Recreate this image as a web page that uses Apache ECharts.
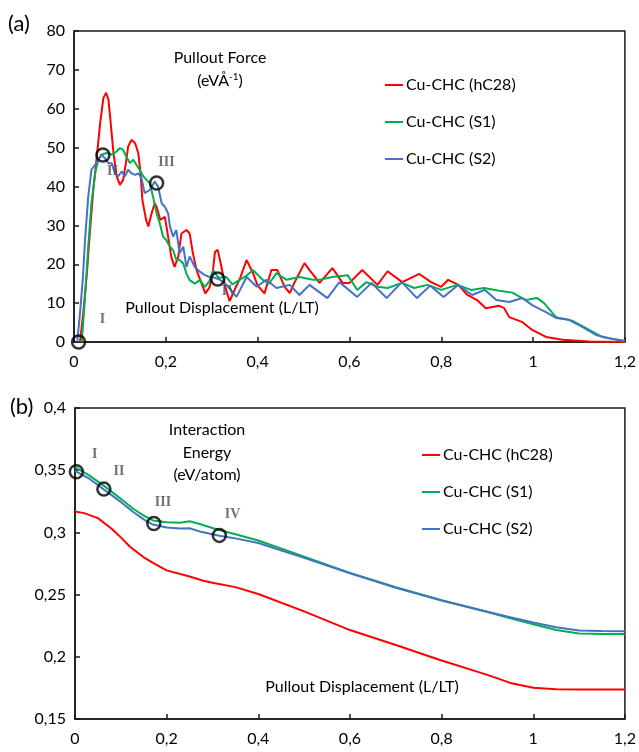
<!DOCTYPE html>
<html>
<head>
<meta charset="utf-8">
<script src="https://cdn.jsdelivr.net/npm/echarts@6/dist/echarts.min.js"></script>
<style>
  html, body { margin: 0; padding: 0; background: #fff; }
  #chart { width: 639px; height: 752px; }
</style>
</head>
<body>
<div id="chart"></div>
<script>
// ---- Data ----
const seriesNames = ['Cu-CHC (hC28)', 'Cu-CHC (S1)', 'Cu-CHC (S2)'];
const seriesColors = ['#FF0000', '#00B050', '#4472C4'];

const xTicks = [0, 0.2, 0.4, 0.6, 0.8, 1, 1.2];
const forceTicks = [0, 10, 20, 30, 40, 50, 60, 70, 80];
const energyTicks = [0.15, 0.2, 0.25, 0.3, 0.35, 0.4];

// Pullout force (eV/Å) vs displacement (L/LT)
const forceHC28 = [[0.013,0],[0.02,7.3],[0.028,17.6],[0.035,28.8],[0.042,39.1],[0.049,46.9],[0.057,56.3],[0.064,62.8],[0.07,64.1],[0.075,62.3],[0.08,56.3],[0.086,48.6],[0.093,42.6],[0.1,40.4],[0.107,41.7],[0.113,46],[0.118,50.3],[0.125,52],[0.129,51.5],[0.133,51.2],[0.14,48.6],[0.145,43.4],[0.149,36.5],[0.157,31.4],[0.162,29.7],[0.169,33.1],[0.176,35.7],[0.181,34.4],[0.188,31.4],[0.198,32.2],[0.205,27.1],[0.212,21.9],[0.219,19.3],[0.227,21.9],[0.234,27.9],[0.245,28.8],[0.252,27.9],[0.259,22.8],[0.267,18.5],[0.278,15],[0.286,12.5],[0.295,14],[0.302,17.5],[0.307,23.2],[0.313,23.7],[0.32,20],[0.33,14],[0.339,10.5],[0.35,13.4],[0.362,16.5],[0.376,21.1],[0.39,17.7],[0.4,14.5],[0.415,12.5],[0.43,18.5],[0.443,18.5],[0.459,14.2],[0.47,12.6],[0.48,15.2],[0.502,20.3],[0.513,18.5],[0.535,15.2],[0.563,19],[0.585,15.2],[0.6,15.2],[0.628,18.5],[0.661,14.7],[0.683,18.2],[0.715,15.4],[0.752,17.5],[0.778,15.4],[0.8,14.2],[0.815,16],[0.837,14.7],[0.857,12.1],[0.878,10.8],[0.897,8.7],[0.926,9.3],[0.937,8.7],[0.948,6.4],[0.977,5.1],[0.998,3.1],[1.028,1.3],[1.064,0.6],[1.122,0.1],[1.2,0]];
const forceS1 = [[0.017,0],[0.024,11.6],[0.031,24.5],[0.038,35.7],[0.046,43.4],[0.053,46.9],[0.06,48.2],[0.071,48.6],[0.082,48.2],[0.093,49],[0.1,49.9],[0.107,49.4],[0.114,47.7],[0.122,46],[0.129,46.9],[0.136,45.6],[0.143,44.3],[0.151,42.6],[0.158,41.7],[0.165,40.8],[0.172,37.4],[0.18,33.1],[0.187,30.5],[0.194,27.1],[0.201,26.2],[0.209,24.5],[0.216,23.6],[0.223,21.1],[0.23,21.1],[0.238,20.2],[0.245,17.6],[0.252,15.9],[0.263,15],[0.274,15.9],[0.285,14.2],[0.294,15.5],[0.303,18.5],[0.315,16.5],[0.332,16.7],[0.345,14.8],[0.361,16],[0.375,17],[0.39,18.5],[0.411,16],[0.425,15],[0.441,17.7],[0.463,16],[0.491,16.7],[0.52,16],[0.535,16],[0.563,16.7],[0.596,17.2],[0.617,13.4],[0.637,15.4],[0.661,14.2],[0.683,13.9],[0.715,15.2],[0.741,13.9],[0.77,14.7],[0.8,13.4],[0.835,14.7],[0.865,13.4],[0.893,13.9],[0.926,13.2],[0.955,12.7],[0.984,10.8],[1.009,11.3],[1.024,10],[1.05,6.4],[1.085,5.5],[1.122,3.1],[1.15,1.3],[1.187,0.5],[1.2,0.3]];
const forceS2 = [[0.007,0],[0.013,7.3],[0.019,15.9],[0.024,26.2],[0.031,37.4],[0.038,44.3],[0.046,45.6],[0.053,46.9],[0.06,48.2],[0.067,47.3],[0.075,46],[0.082,46],[0.089,43.4],[0.096,42.6],[0.104,43.9],[0.111,42.6],[0.118,44.3],[0.125,43.4],[0.133,43],[0.14,43.4],[0.147,42.1],[0.154,38.3],[0.165,39.1],[0.176,41.3],[0.183,40],[0.191,35.7],[0.198,34.8],[0.205,33.1],[0.209,29.7],[0.216,27.1],[0.223,28.8],[0.23,22.8],[0.238,24.5],[0.245,19.3],[0.252,22],[0.263,19.3],[0.274,18.1],[0.285,17.2],[0.294,16.8],[0.303,16.7],[0.318,16],[0.332,14.7],[0.354,11.6],[0.376,16.7],[0.398,14.2],[0.419,16],[0.441,13.9],[0.47,14.7],[0.491,12.1],[0.513,14.7],[0.552,11.3],[0.578,15.4],[0.617,11.6],[0.648,15.2],[0.681,11.3],[0.714,15.4],[0.747,11.3],[0.776,14.5],[0.805,11.6],[0.837,14.7],[0.867,12.1],[0.895,13.4],[0.92,10.8],[0.948,10.3],[0.977,11.3],[0.998,9.5],[1.028,7.7],[1.05,6.2],[1.078,5.7],[1.107,3.9],[1.137,1.8],[1.172,0.8],[1.2,0.2]];

// Interaction energy (eV/atom) vs displacement (L/LT)
const energyHC28 = [[0,0.3168],[0.02,0.3155],[0.05,0.3115],[0.08,0.303],[0.1,0.296],[0.12,0.2885],[0.15,0.28],[0.175,0.2745],[0.2,0.2695],[0.25,0.2645],[0.28,0.2612],[0.3,0.2595],[0.35,0.256],[0.4,0.2505],[0.5,0.2365],[0.6,0.2215],[0.7,0.2095],[0.8,0.197],[0.9,0.1855],[0.95,0.179],[1.0,0.1752],[1.05,0.174],[1.1,0.1738],[1.2,0.1738]];
const energyS1 = [[0,0.3525],[0.03,0.346],[0.064,0.3372],[0.1,0.327],[0.127,0.319],[0.15,0.3135],[0.17,0.3096],[0.2,0.3082],[0.23,0.3078],[0.25,0.309],[0.272,0.3068],[0.3,0.3035],[0.315,0.302],[0.35,0.2985],[0.4,0.2935],[0.5,0.2805],[0.6,0.2675],[0.7,0.256],[0.8,0.2455],[0.9,0.236],[0.95,0.231],[1.0,0.2262],[1.05,0.2215],[1.1,0.2188],[1.15,0.2184],[1.2,0.2184]];
const energyS2 = [[0,0.3495],[0.03,0.3435],[0.064,0.3342],[0.1,0.3245],[0.127,0.3164],[0.15,0.3105],[0.17,0.3063],[0.2,0.304],[0.23,0.3032],[0.25,0.3033],[0.272,0.3008],[0.3,0.2985],[0.315,0.2973],[0.35,0.2952],[0.4,0.2915],[0.5,0.2795],[0.6,0.2672],[0.7,0.2555],[0.8,0.2452],[0.9,0.2362],[0.95,0.2318],[1.0,0.2275],[1.05,0.2238],[1.1,0.2212],[1.15,0.2207],[1.2,0.2206]];

// Stage markers I–IV
const stageNames = ['I', 'II', 'III', 'IV'];
const forceStagePoints = [[0.01,0],[0.063,48.1],[0.18,40.9],[0.313,16.2]];
const forceStageLabelAt = [[0.062,5.7],[0.084,43.8],[0.2015,46.1],[0.339,12.9]];
const energyStagePoints = [[0.003,0.3488],[0.063,0.3348],[0.172,0.3072],[0.315,0.2976]];
const energyStageLabelAt = [[0.043,0.363],[0.096,0.349],[0.192,0.324],[0.344,0.3142]];

// ---- Styling helpers ----
const FONT = 'Lato';
const AXIS_COLOR = '#1a1a1a';
const commaNum = (v, d) => String(Number(v.toFixed(d))).replace('.', ',');

function xAxisFor(gridIndex) {
  return {
    type: 'value', gridIndex, min: xTicks[0], max: xTicks[xTicks.length - 1], interval: 0.2,
    axisLine: { show: true, onZero: false, lineStyle: { color: AXIS_COLOR, width: 1.5 } },
    axisTick: { show: true, inside: true, length: 5, lineStyle: { color: AXIS_COLOR, width: 1.5 } },
    splitLine: { show: false },
    axisLabel: { color: '#000', fontSize: 16, fontFamily: FONT, margin: 12,
      formatter: v => commaNum(v, 1) }
  };
}
function yAxisFor(gridIndex, ticks, interval, digits) {
  return {
    type: 'value', gridIndex, min: ticks[0], max: ticks[ticks.length - 1], interval,
    axisLine: { show: true, lineStyle: { color: AXIS_COLOR, width: 1.5 } },
    axisTick: { show: true, inside: true, length: 5, lineStyle: { color: AXIS_COLOR, width: 1.5 } },
    splitLine: { show: false },
    axisLabel: { color: '#000', fontSize: 16, fontFamily: FONT, margin: 9,
      formatter: v => commaNum(v, digits) }
  };
}
function lineSeries(name, idx, data, axisIdx) {
  return {
    name, type: 'line', data, xAxisIndex: axisIdx, yAxisIndex: axisIdx,
    showSymbol: false, symbol: 'none', animation: false,
    lineStyle: { color: seriesColors[idx], width: 2 },
    itemStyle: { color: seriesColors[idx] }
  };
}
function ringSeries(data, axisIdx) {
  return {
    type: 'scatter', data, xAxisIndex: axisIdx, yAxisIndex: axisIdx, z: 5,
    symbol: 'circle', symbolSize: 13, animation: false, silent: true,
    itemStyle: { color: 'rgba(0,0,0,0)', borderColor: '#000', borderWidth: 2.5 }
  };
}
function numeralSeries(data, axisIdx) {
  return {
    type: 'scatter', xAxisIndex: axisIdx, yAxisIndex: axisIdx, symbolSize: 0, z: 6,
    animation: false, silent: true,
    data: data.map((p, i) => ({ value: p, name: stageNames[i] })),
    label: { show: true, position: 'inside', formatter: p => p.name,
      fontFamily: 'Liberation Serif', fontWeight: 'bold', fontSize: 14, color: '#4d4d4d' }
  };
}
function legendAt(left, top) {
  return {
    data: seriesNames, orient: 'vertical', left, top, padding: 0,
    icon: 'rect', itemWidth: 18, itemHeight: 2, itemGap: 19, selectedMode: false,
    textStyle: { fontSize: 16, fontFamily: FONT, color: '#000', lineHeight: 18, padding: [0, 0, 0, -2] }
  };
}
function label(text, x, y, size) {
  return { type: 'text', x, y, silent: true,
    style: { text, fontSize: size || 16, fontFamily: FONT, fill: '#000',
      align: 'center', verticalAlign: 'middle' } };
}

const option = {
  backgroundColor: '#fff',
  animation: false,
  grid: [
    { left: 74, right: 13, top: 31, height: 311, show: true, borderColor: AXIS_COLOR, borderWidth: 1.5 },
    { left: 75, right: 12, top: 408, height: 311, show: true, borderColor: AXIS_COLOR, borderWidth: 1.5 }
  ],
  xAxis: [xAxisFor(0), xAxisFor(1)],
  yAxis: [yAxisFor(0, forceTicks, 10, 0), yAxisFor(1, energyTicks, 0.05, 2)],
  legend: [legendAt(385, 76), legendAt(422, 446)],
  series: [
    lineSeries(seriesNames[0], 0, forceHC28, 0),
    lineSeries(seriesNames[1], 1, forceS1, 0),
    lineSeries(seriesNames[2], 2, forceS2, 0),
    lineSeries(seriesNames[0], 0, energyHC28, 1),
    lineSeries(seriesNames[1], 1, energyS1, 1),
    lineSeries(seriesNames[2], 2, energyS2, 1),
    ringSeries(forceStagePoints, 0),
    ringSeries(energyStagePoints, 1),
    numeralSeries(forceStageLabelAt, 0),
    numeralSeries(energyStageLabelAt, 1)
  ],
  graphic: [
    { type: 'text', left: 8, top: 13, silent: true,
      style: { text: '(a)', fontSize: 22, fontFamily: FONT, fill: '#000' } },
    { type: 'text', left: 10, top: 396, silent: true,
      style: { text: '(b)', fontSize: 22, fontFamily: FONT, fill: '#000' } },
    label('Pullout Force', 220, 58),
    { type: 'text', x: 220, y: 81, silent: true,
      style: { text: '(eVÅ{sup|-1})', fontSize: 16, fontFamily: FONT, fill: '#000',
        align: 'center', verticalAlign: 'middle',
        rich: { sup: { fontSize: 10, fontFamily: FONT, fill: '#000', padding: [0, 0, 8, 0] } } } },
    label('Pullout Displacement (L/LT)', 222, 308),
    label('Interaction', 207, 430),
    label('Energy', 207, 453),
    label('(eV/atom)', 207, 475),
    label('Pullout Displacement (L/LT)', 362, 687)
  ]
};

const chart = echarts.init(document.getElementById('chart'), null, { renderer: 'canvas' });
chart.setOption(option);
</script>
</body>
</html>
